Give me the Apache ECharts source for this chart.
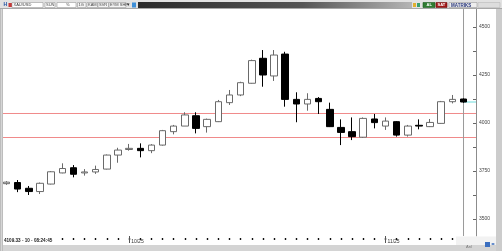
<!DOCTYPE html>
<html><head><meta charset="utf-8">
<script src="https://cdn.jsdelivr.net/npm/echarts@6/dist/echarts.min.js"></script>
<style>html,body{margin:0;padding:0;background:#d6d6d6;overflow:hidden}#c{width:502px;height:251px}</style>
</head><body><div id="c"></div>
<script>
// ---- data (XAU/USD daily candles) ----
const dates = ['09/16','09/17','09/18','09/19','09/22','09/23','09/24','09/25','09/26','09/29','09/30',
  '10/01','10/02','10/03','10/06','10/07','10/08','10/09','10/10','10/13','10/14','10/15','10/16','10/17',
  '10/20','10/21','10/22','10/23','10/24','10/27','10/28','10/29','10/30','10/31',
  '11/03','11/04','11/05','11/06','11/07','11/10','11/11','11/12'];
const opens  = [3684,3690,3660,3643,3682,3740,3767,3740,3745,3760,3833,3862,3868,3856,3885,3955,3984,4038,3981,4007,4106,4146,4207,4337,4245,4359,4123,4099,4128,4071,3977,3955,3926,4021,3984,4007,3937,3988,3981,3998,4111,4125];
const closes = [3692,3656,3643,3686,3746,3763,3733,3745,3758,3833,3859,3868,3856,3885,3960,3984,4042,3972,4019,4111,4146,4210,4325,4250,4354,4123,4099,4123,4111,3981,3951,3929,4024,4002,4010,3937,3984,3984,4003,4111,4123,4109.33];
const lows   = [3678,3640,3625,3630,3680,3738,3717,3726,3735,3758,3793,3856,3821,3843,3882,3941,3984,3946,3950,4005,4094,4140,4205,4189,4219,4085,4004,4064,4047,3979,3885,3911,3922,3972,3964,3929,3929,3967,3979,3996,4102,4105];
const highs  = [3697,3703,3672,3690,3750,3790,3781,3760,3778,3836,3871,3891,3894,3890,3964,3990,4056,4056,4023,4120,4172,4215,4330,4380,4380,4371,4160,4155,4135,4106,4019,4029,4029,4047,4029,4010,3990,4019,4021,4115,4146,4128];
const yTickLabels = [3500, 3750, 4000, 4250, 4500];
const yAllTicks = [3500, 3625, 3750, 3875, 4000, 4125, 4250, 4375, 4500];
const monthMarkIdx = [11, 34];
const monthMarkLabels = ['10/25', '11/25'];
const levelLines = [4049.5, 3924.5];
const lastPrice = 4109.33;
const statusText = '4109.33 - 10 - 08:24:45';

// ---- chart ----
const X_MIN = -0.32, X_MAX = 42.12, Y_MIN = 3411.5, Y_MAX = 4593.75;
const FONT = 'Liberation Sans';
const candleData = opens.map((o, i) => [i, o, closes[i], lows[i], highs[i]]);
const tickIdx = dates.map((d, i) => i);
const lastIdx = dates.length - 1;

const chart = echarts.init(document.getElementById('c'), null, {renderer: 'canvas', width: 502, height: 251});

function box(x1, x2, fill, stroke) {
  return {type: 'rect', shape: {x: x1, y: 2.5, width: x2 - x1, height: 5}, style: {fill: fill, stroke: stroke || '#9a9a9a', lineWidth: 0.6}, z: 60, silent: true};
}
function txt(x, y, t, size, color, weight) {
  return {type: 'text', x: x, y: y, style: {text: t, fontSize: size, fill: color, fontFamily: FONT, fontWeight: weight || 'normal'}, z: 61, silent: true};
}

const graphic = [
  {type: 'rect', shape: {x: 0, y: 0, width: 502, height: 251}, style: {fill: '#d4d4d4'}, z: -20, silent: true},
  {type: 'rect', shape: {x: 3, y: 9, width: 493, height: 236}, style: {fill: '#ffffff'}, z: -19, silent: true},
  {type: 'rect', shape: {x: 0, y: 9, width: 3, height: 242}, style: {fill: '#bdbdbd'}, z: 60, silent: true},
  {type: 'line', shape: {x1: 1.5, y1: 9, x2: 1.5, y2: 251}, style: {stroke: '#e8e8e8', lineWidth: 0.6}, z: 61, silent: true},
  {type: 'rect', shape: {x: 496, y: 9, width: 6, height: 242}, style: {fill: '#cccccc'}, z: 60, silent: true},
  {type: 'rect', shape: {x: 0, y: 0, width: 502, height: 9}, style: {fill: '#e2e2e2'}, z: 55, silent: true},
  {type: 'line', shape: {x1: 0, y1: 8.5, x2: 502, y2: 8.5}, style: {stroke: '#a8a8a8', lineWidth: 1}, z: 56, silent: true},
  {type: 'rect', shape: {x: 138, y: 2, width: 274, height: 6},
    style: {fill: new echarts.graphic.LinearGradient(0, 0, 1, 0, [{offset: 0, color: '#2b2b2b'}, {offset: 0.6, color: '#555555'}, {offset: 1, color: '#b5b5b5'}])}, z: 57, silent: true},
  txt(3.5, 2.3, 'H', 5, '#1f4fa0', 'bold'),
  {type: 'rect', shape: {x: 8.5, y: 3, width: 3.5, height: 4}, style: {fill: '#c83a3a'}, z: 60, silent: true},
  box(12, 43, '#ffffff'), txt(13.5, 3, 'XAU/USD', 4, '#333'),
  box(45, 55, '#ffffff'), txt(46, 3, 'SUN', 4, '#444'),
  box(57, 76, '#ffffff'), txt(66, 3, '%', 4, '#444'),
  box(77.5, 86, '#f4f4f4'), txt(78.5, 3, '1G', 4, '#444'),
  box(87, 97.5, '#f4f4f4'), txt(88, 3, 'KAM', 4, '#444'),
  box(98, 108.5, '#f4f4f4'), txt(99, 3, 'SVR', 4, '#444'),
  box(109, 126, '#f4f4f4'), txt(110, 3, 'EYM SHP', 4, '#444'),
  txt(127, 2.5, '▾', 5, '#333'),
  {type: 'rect', shape: {x: 132, y: 2.5, width: 4, height: 5}, style: {fill: '#3d8fd8'}, z: 60, silent: true},
  {type: 'rect', shape: {x: 413, y: 3, width: 3, height: 4}, style: {fill: '#e0b030'}, z: 60, silent: true},
  {type: 'rect', shape: {x: 417, y: 3, width: 3, height: 4}, style: {fill: '#3aa070'}, z: 60, silent: true},
  box(423, 435, '#2f7d32', '#1d5a20'), txt(426.5, 3, 'AL', 4, '#ffffff', 'bold'),
  box(436, 447, '#a01818', '#701010'), txt(437.5, 3, 'SAT', 4, '#ffffff', 'bold'),
  box(449, 477, '#eeeeee'), txt(451, 3, 'MATRIKS', 4.5, '#26357a', 'bold'),
  box(478, 500, '#dddddd', '#bbbbbb'),
  {type: 'rect', shape: {x: 0, y: 245, width: 502, height: 6}, style: {fill: '#d4d4d4'}, z: 55, silent: true},
  {type: 'rect', shape: {x: 456, y: 236.5, width: 40, height: 9}, style: {fill: '#f2f2f2'}, z: 54, silent: true},
  txt(466, 245, 'Anl', 4, '#777'),
  {type: 'rect', shape: {x: 485, y: 242, width: 5, height: 5}, style: {fill: '#3b6fc0'}, z: 60, silent: true},
  txt(491, 242, '◂▸', 4, '#3b6fc0'),
  {type: 'rect', shape: {x: 3, y: 237, width: 57, height: 7}, style: {fill: '#ffffff'}, z: 50, silent: true},
  txt(4, 238.5, statusText, 4.6, '#222', 'bold')
];

const levelSeries = levelLines.map((v, k) => ({
  type: 'line', name: 'level' + k, xAxisIndex: 0, yAxisIndex: 0, z: 1, silent: true,
  data: [[X_MIN, v], [X_MAX, v]], showSymbol: false, symbol: 'none',
  lineStyle: {color: '#f08a8a', width: 1, type: 'solid'}, itemStyle: {color: '#f08a8a'}
}));

const option = {
  animation: false,
  backgroundColor: '#d4d4d4',
  textStyle: {fontFamily: FONT},
  grid: {left: 3, right: 26, top: 9, bottom: 15, containLabel: false, outerBoundsMode: 'none'},
  xAxis: [
    {type: 'value', min: X_MIN, max: X_MAX, position: 'bottom', offset: 2,
      axisLine: {show: false, onZero: false}, splitLine: {show: false},
      axisTick: {show: true, customValues: tickIdx, length: 2, lineStyle: {color: '#111', width: 1.4}},
      axisLabel: {show: true, customValues: monthMarkIdx, margin: 1, fontSize: 5, color: '#333', align: 'left', padding: [0, 0, 0, 2],
        formatter: v => monthMarkLabels[monthMarkIdx.indexOf(Math.round(v))] || ''}},
    {type: 'value', min: X_MIN, max: X_MAX, position: 'bottom', offset: 0,
      axisLine: {show: false, onZero: false}, splitLine: {show: false}, axisLabel: {show: false},
      axisTick: {show: true, customValues: monthMarkIdx, length: 7, lineStyle: {color: '#555', width: 1}}}
  ],
  yAxis: [
    {type: 'value', min: Y_MIN, max: Y_MAX, position: 'right', splitLine: {show: false},
      axisLine: {show: true, onZero: false, lineStyle: {color: '#8c8c8c', width: 1}},
      axisTick: {show: true, inside: true, customValues: yAllTicks, length: 3, lineStyle: {color: '#666'}},
      axisLabel: {show: true, customValues: yTickLabels, margin: 3, fontSize: 5, color: '#444', formatter: v => String(v)}}
  ],
  graphic: graphic,
  series: levelSeries.concat([
    {
      type: 'line', name: 'cursor', xAxisIndex: 0, yAxisIndex: 0, z: 1, silent: true,
      data: [[lastIdx, Y_MIN], [lastIdx, Y_MAX]], showSymbol: false, symbol: 'none',
      lineStyle: {color: '#9a9a9a', width: 1}, itemStyle: {color: '#9a9a9a'}
    },
    {
      type: 'line', name: 'last', xAxisIndex: 0, yAxisIndex: 0, z: 1, silent: true,
      data: [[lastIdx, lastPrice], [X_MAX, lastPrice]], showSymbol: false, symbol: 'none',
      lineStyle: {color: '#6fdcdc', width: 1}, itemStyle: {color: '#6fdcdc'}
    },
    {
      type: 'candlestick', z: 3,
      xAxisIndex: 0, yAxisIndex: 0,
      data: candleData,
      encode: {x: 0, y: [1, 2, 3, 4]},
      barWidth: 7,
      itemStyle: {color: '#ffffff', color0: '#000000', borderColor: '#6a6a6a', borderColor0: '#000000', borderWidth: 1}
    }
  ])
};
chart.setOption(option);
</script>
</body></html>
